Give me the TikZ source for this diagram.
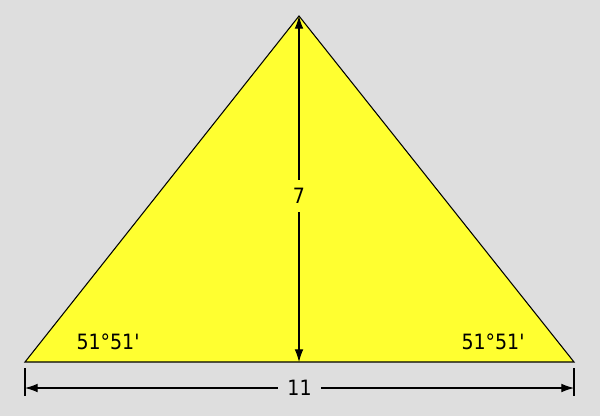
\documentclass[tikz,border=0pt]{standalone}
\usepackage{fontspec}
\setmainfont{DejaVu Sans Condensed}
\usetikzlibrary{arrows.meta}
\definecolor{pyrbg}{RGB}{222,222,222}
\definecolor{pyrface}{RGB}{255,255,48}
\tikzset{
  dimline/.style={line width=0.9pt, {Latex[length=3.8mm,width=2.6mm]}-{Latex[length=3.8mm,width=2.6mm]}},
  dimlabel/.style={inner xsep=3pt, inner ysep=7pt, font=\fontsize{18}{18}\selectfont},
}

\begin{document}
\begin{tikzpicture}[x=0.03cm, y=-0.03cm]
	\fill[pyrbg] (0,0) rectangle (600,416);
	\useasboundingbox (0,0) rectangle (600,416);
	% corners of the triangle
	\coordinate (apex) at (299,16);
	\coordinate (left) at (25,362);
	\coordinate (right) at (574,362);
	\coordinate (foot) at (299,362);
	\filldraw[fill=pyrface, draw=black, line width=0.9pt] (left) -- (apex) -- (right) -- cycle;
	% height
	\draw[dimline] (apex) -- (foot) node[pos=0.52, fill=pyrface, dimlabel] (h) {7};
	% base
	\coordinate (dl) at (25,388);
	\coordinate (dr) at (574,388);
	\draw[line width=0.9pt] (25,368) -- (25,396);
	\draw[line width=0.9pt] (574,368) -- (574,396);
	\draw[dimline] (dl) -- (dr) node[midway, fill=pyrbg, dimlabel, inner xsep=8pt, inner ysep=2pt] (b) {11};
	% angles
	\node[dimlabel] (angl) at (108,342) {51°51\textquotesingle};
	\node[dimlabel] (angr) at (493,342) {51°51\textquotesingle};
\end{tikzpicture}
\end{document}
